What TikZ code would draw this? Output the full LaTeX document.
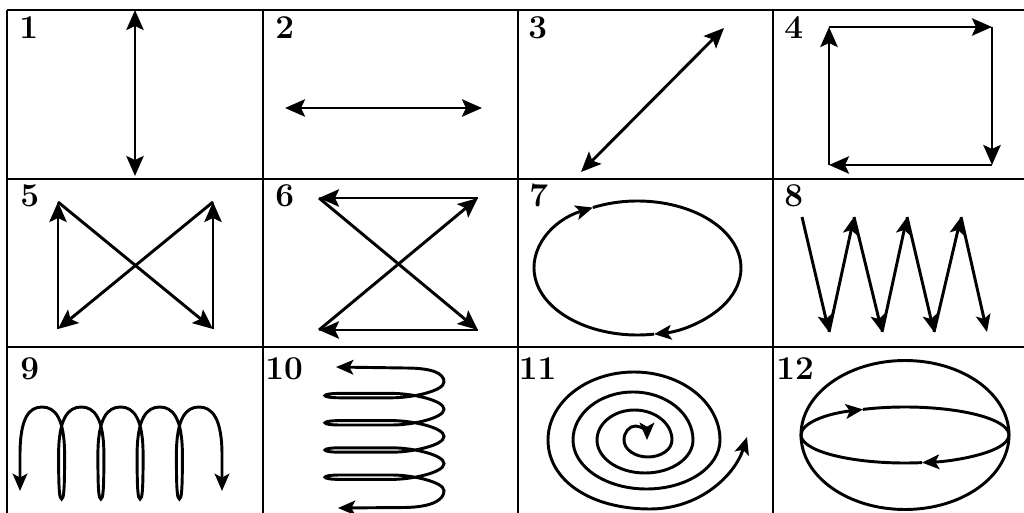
\documentclass[tikz,border=0pt]{standalone}
\usepackage{fontspec}
\usetikzlibrary{arrows.meta}
\begin{document}
\begin{tikzpicture}[x=0.75pt,y=0.75pt,
  frameline/.style={line width=1.5pt},
  curve/.style={line width=2.2pt},
  bigtips/.style={curve,>={Stealth[length=15pt,width=13pt,inset=3pt]}},
  smalltips/.style={curve,>={Stealth[length=13pt,width=11pt,inset=3pt]}},
  num/.style={anchor=base west, inner sep=0pt, font=\fontsize{25}{30}\selectfont\bfseries}]
\useasboundingbox (0,0) rectangle (1024,-513);
% frame
\draw[frameline] (7,-10) -- (1024,-10);
\draw[frameline] (7,-179) -- (1024,-179);
\draw[frameline] (7,-347) -- (1024,-347);
\foreach \cx in {7,263,518,773} \draw[frameline] (\cx,-10) -- (\cx,-513);
% labels
\node[num] (n1) at (19,-39) {1};
\node[num] (n2) at (275,-39) {2};
\node[num] (n3) at (528,-39) {3};
\node[num] (n4) at (784,-39) {4};
\node[num] (n5) at (20,-207) {5};
\node[num] (n6) at (275,-207) {6};
\node[num] (n7) at (529,-207) {7};
\node[num] (n8) at (784,-207) {8};
\node[num] (n9) at (20,-379) {9};
\node[num] (n10) at (265,-379) {10};
\node[num] (n11) at (518.5,-379) {11};
\node[num] (n12) at (776,-379) {12};
% cell 1
\coordinate (a1) at (135,-10); \coordinate (a2) at (135,-176);
\draw[bigtips,<->] (a1) -- (a2);
% cell 2
\coordinate (b1) at (285,-108); \coordinate (b2) at (482,-108);
\draw[bigtips,<->] (b1) -- (b2);
% cell 3
\coordinate (c1) at (581,-172); \coordinate (c2) at (724,-28);
\draw[bigtips,<->] (c1) -- (c2);
% cell 4
\coordinate (d1) at (829,-27); \coordinate (d2) at (992,-27);
\coordinate (d3) at (992,-165); \coordinate (d4) at (829,-165);
\draw[bigtips,->] (d4) -- (d1);
\draw[bigtips,->] (d1) -- (d2);
\draw[bigtips,->] (d2) -- (d3);
\draw[bigtips,->] (d3) -- (d4);
% cell 5
\coordinate (e1) at (58,-202); \coordinate (e2) at (213,-202);
\coordinate (e3) at (213,-329); \coordinate (e4) at (58,-329);
\draw[bigtips,->] (e4) -- (e1);
\draw[bigtips,->] (e1) -- (e3);
\draw[bigtips,->] (e3) -- (e2);
\draw[bigtips,->] (e2) -- (e4);
% cell 6
\coordinate (f1) at (319,-198); \coordinate (f2) at (478,-198);
\coordinate (f3) at (478,-330); \coordinate (f4) at (319,-330);
\draw[bigtips,->] (f2) -- (f1);
\draw[bigtips,->] (f1) -- (f3);
\draw[bigtips,->] (f3) -- (f4);
\draw[bigtips,->] (f4) -- (f2);
% cell 7
\coordinate (g0) at (637.5,-268);
\draw[smalltips,->] ([shift={(115.5:77.625pt and 50.25pt)}]g0) arc[start angle=115.5, end angle=-80.8, x radius=77.625pt, y radius=50.25pt];
\draw[smalltips,->] ([shift={(-80.8:77.625pt and 50.25pt)}]g0) arc[start angle=-80.8, end angle=-244.5, x radius=77.625pt, y radius=50.25pt];
% cell 8
\coordinate (h0) at (802,-217);
\coordinate (hb1) at (829,-332); \coordinate (ht1) at (854,-217);
\coordinate (hb2) at (882,-332); \coordinate (ht2) at (907,-217);
\coordinate (hb3) at (934,-332); \coordinate (ht3) at (961,-217);
\coordinate (hb4) at (987,-332);
\draw[smalltips,->] (h0) -- (hb1);
\draw[smalltips,->] (hb1) -- (ht1);
\draw[smalltips,->] (ht1) -- (hb2);
\draw[smalltips,->] (hb2) -- (ht2);
\draw[smalltips,->] (ht2) -- (hb3);
\draw[smalltips,->] (hb3) -- (ht3);
\draw[smalltips,->] (ht3) -- (hb4);
% cell 9
\draw[smalltips,<->] (20,-491) -- (20,-455) .. controls (20,-418) and (29,-407) .. (42,-407)
  .. controls (55,-407) and (64.6,-418) .. (64.6,-455) .. controls (64.6,-490) and (63.8,-499) .. (61.6,-499)
  .. controls (59.4,-499) and (58.6,-490) .. (58.6,-455) .. controls (58.6,-418) and (68.25,-407) .. (81.25,-407)
  .. controls (94.25,-407) and (103.9,-418) .. (103.9,-455) .. controls (103.9,-490) and (103.1,-499) .. (100.9,-499)
  .. controls (98.7,-499) and (97.9,-490) .. (97.9,-455) .. controls (97.9,-418) and (107.5,-407) .. (120.5,-407)
  .. controls (133.5,-407) and (143.1,-418) .. (143.1,-455) .. controls (143.1,-490) and (142.3,-499) .. (140.1,-499)
  .. controls (137.9,-499) and (137.1,-490) .. (137.1,-455) .. controls (137.1,-418) and (146.75,-407) .. (159.75,-407)
  .. controls (172.75,-407) and (182.4,-418) .. (182.4,-455) .. controls (182.4,-490) and (181.6,-499) .. (179.4,-499)
  .. controls (177.2,-499) and (176.4,-490) .. (176.4,-455) .. controls (176.4,-418) and (186,-407) .. (199,-407)
  .. controls (212,-407) and (222,-418) .. (222,-455) -- (222,-491);
% cell 10
\draw[smalltips,<->] (336,-367) -- (405,-368) .. controls (432,-368) and (444,-373) .. (444,-382)
  .. controls (444,-391) and (412,-397.8) .. (392,-397.8) -- (340,-397.8) .. controls (320,-397.8) and (320,-393.4) .. (340,-393.4) -- (392,-393.4) .. controls (412,-393.4) and (444,-400.2) .. (444,-409.2)
  .. controls (444,-418.2) and (412,-425) .. (392,-425) -- (340,-425) .. controls (320,-425) and (320,-420.6) .. (340,-420.6) -- (392,-420.6) .. controls (412,-420.6) and (444,-427.4) .. (444,-436.4)
  .. controls (444,-445.4) and (412,-452.2) .. (392,-452.2) -- (340,-452.2) .. controls (320,-452.2) and (320,-447.8) .. (340,-447.8) -- (392,-447.8) .. controls (412,-447.8) and (444,-454.6) .. (444,-463.6)
  .. controls (444,-472.6) and (412,-479.4) .. (392,-479.4) -- (340,-479.4) .. controls (320,-479.4) and (320,-475) .. (340,-475) -- (392,-475) .. controls (412,-475) and (444,-481.8) .. (444,-490.8)
  .. controls (444,-500) and (432,-507) .. (405,-507.5) -- (338,-508);
% cell 11
\draw[smalltips,<->] (747,-437) .. controls (735,-475) and (700,-509) .. (650,-509)
  .. controls (590,-509) and (548,-480) .. (548,-440)
  arc[start angle=180, end angle=0, x radius=64.5pt, y radius=51pt]
  arc[start angle=0, end angle=-180, x radius=55.125pt, y radius=36.75pt]
  arc[start angle=180, end angle=0, x radius=45pt, y radius=36pt]
  arc[start angle=0, end angle=-180, x radius=36pt, y radius=24.75pt]
  arc[start angle=180, end angle=0, x radius=28.125pt, y radius=22.5pt]
  arc[start angle=0, end angle=-180, x radius=18pt, y radius=12.75pt]
  arc[start angle=180, end angle=0, x radius=8.625pt, y radius=10.5pt];
% cell 12
\coordinate (k0) at (905,-435);
\draw[curve] (k0) ellipse[x radius=78pt, y radius=55.875pt];
\draw[smalltips,->] ([shift={(113.8:78pt and 21pt)}]k0) arc[start angle=113.8, end angle=-80.6, x radius=78pt, y radius=21pt];
\draw[smalltips,->] ([shift={(-80.6:78pt and 21pt)}]k0) arc[start angle=-80.6, end angle=-246.2, x radius=78pt, y radius=21pt];
\end{tikzpicture}
\end{document}
